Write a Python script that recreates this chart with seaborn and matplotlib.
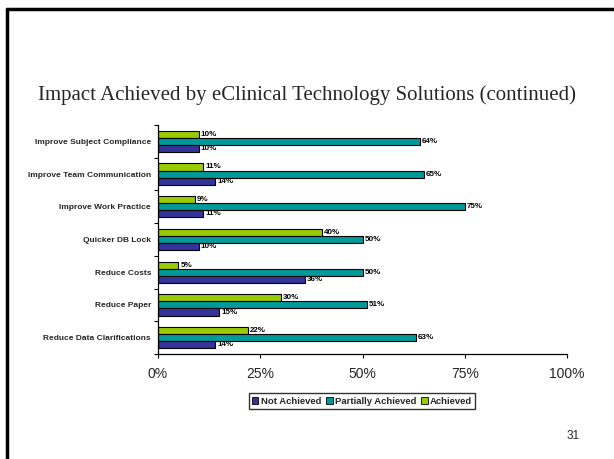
import numpy as np
import pandas as pd
import matplotlib
matplotlib.use("Agg")
import matplotlib.pyplot as plt
from matplotlib.lines import Line2D
from matplotlib.patches import Patch
import seaborn as sns

categories = [
    "Improve Subject Compliance",
    "Improve Team Communication",
    "Improve Work Practice",
    "Quicker DB Lock",
    "Reduce Costs",
    "Reduce Paper",
    "Reduce Data Clarifications",
]
achieved = [10, 11, 9, 40, 5, 30, 22]
partially = [64, 65, 75, 50, 50, 51, 63]
not_achieved = [10, 14, 11, 10, 36, 15, 14]

series = ["Achieved", "Partially Achieved", "Not Achieved"]
colors = {"Not Achieved": "#333399", "Partially Achieved": "#009999", "Achieved": "#99CC00"}
legend_order = ["Not Achieved", "Partially Achieved", "Achieved"]

df = pd.DataFrame({
    "category": categories * 3,
    "series": ["Achieved"] * 7 + ["Partially Achieved"] * 7 + ["Not Achieved"] * 7,
    "value": achieved + partially + not_achieved,
})

sns.set_theme(style="white")
plt.rcParams["font.family"] = ["Liberation Sans", "DejaVu Sans"]

fig = plt.figure(figsize=(6.14, 4.59), dpi=100)
ax = fig.add_axes([158 / 614, 1 - 354 / 459, 409 / 614, 229 / 459])

sns.barplot(data=df, x="value", y="category", hue="series", order=categories,
            hue_order=series, palette=colors, orient="h", width=0.65,
            edgecolor="black", linewidth=0.8, saturation=1, legend=False, ax=ax)

for cont in ax.containers:
    ax.bar_label(cont, labels=[f"{v:.0f}%" for v in cont.datavalues], padding=1.5,
                 fontsize=5.8, fontweight="bold", color="black")

ax.set_xlim(0, 100)
ax.set_ylim(6.5, -0.5)
ax.set_xticks([0, 25, 50, 75, 100])
ax.set_xticklabels(["0%", "25%", "50%", "75%", "100%"], fontsize=10)
ax.set_yticks(range(len(categories)))
ax.set_yticklabels(categories, fontsize=6, fontweight="bold")
ax.set_yticks(np.arange(-0.5, 7, 1), minor=True)
ax.tick_params(axis="y", which="major", length=0, pad=5)
ax.tick_params(axis="y", which="minor", length=3, width=0.8, color="black", left=True)
ax.tick_params(axis="x", length=3, width=0.8, color="black", bottom=True, pad=6)
ax.set_xlabel("")
ax.set_ylabel("")
for s in ["top", "right"]:
    ax.spines[s].set_visible(False)
for s in ["left", "bottom"]:
    ax.spines[s].set_color("black")
    ax.spines[s].set_linewidth(0.9)

handles = [Patch(facecolor=colors[k], edgecolor="black", linewidth=0.6, label=k) for k in legend_order]
fig.legend(handles=handles, loc="center", bbox_to_anchor=(362 / 614, 1 - 401 / 459), ncol=3,
           frameon=True, fancybox=False, edgecolor="black",
           prop={"weight": "bold", "size": 6.8}, handlelength=0.7, handleheight=0.7,
           handletextpad=0.25, columnspacing=0.5, borderpad=0.35)

fig.text(307 / 614, 1 - 95 / 459, "Impact Achieved by eClinical Technology Solutions (continued)",
         ha="center", va="center", fontsize=15, family="Liberation Serif")
fig.text(573 / 614, 1 - 436 / 459, "31", ha="center", va="center", fontsize=8.5)

# slide border
fig.add_artist(Line2D([6.5 / 614, 6.5 / 614], [0, 1 - 9 / 459], color="black", linewidth=2.5,
                      transform=fig.transFigure))
fig.add_artist(Line2D([6.5 / 614, 1], [1 - 9 / 459, 1 - 9 / 459], color="black", linewidth=2.5,
                      transform=fig.transFigure))

fig.savefig("out.png", dpi=100)
